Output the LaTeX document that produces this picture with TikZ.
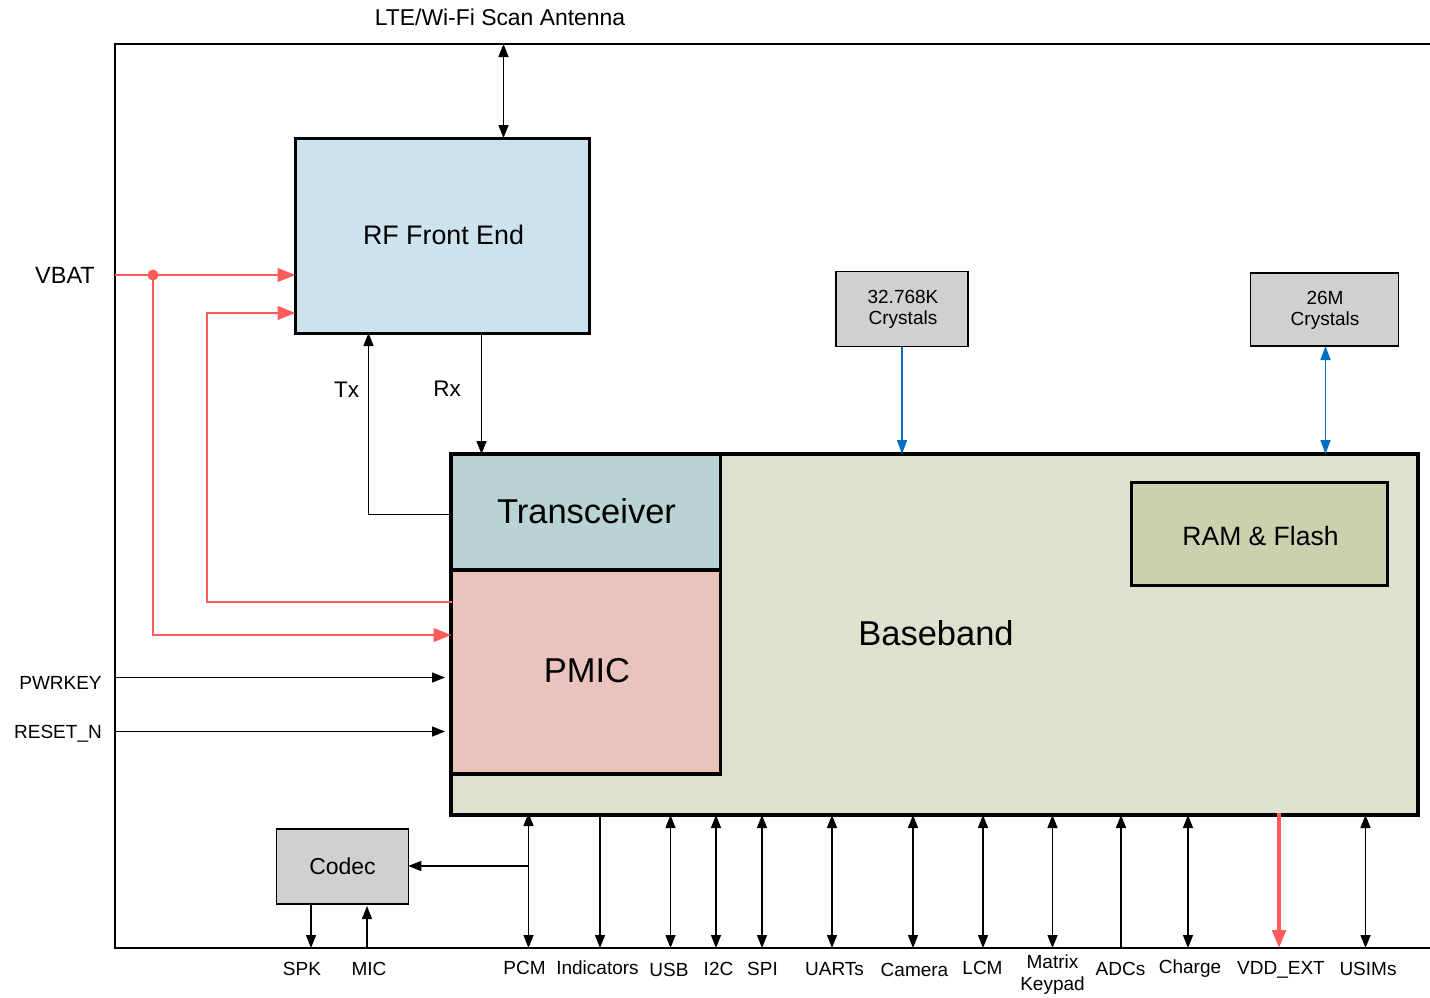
\documentclass[tikz,border=0pt]{standalone}
\usepackage{fontspec}
\setmainfont{Liberation Sans}
\usetikzlibrary{arrows.meta,calc}
\definecolor{rfblue}{HTML}{CCE2EC}
\definecolor{bbgreen}{HTML}{DDE2CE}
\definecolor{ramgreen}{HTML}{CAD1AE}
\definecolor{trteal}{HTML}{B9D3D4}
\definecolor{pmicpink}{HTML}{EAC4BC}
\definecolor{boxgrey}{HTML}{D0D0D0}
\definecolor{pwrred}{HTML}{FF5B5B}
\definecolor{clkblue}{HTML}{0070C0}
\newcommand{\fs}[1]{\fontsize{#1}{#1}\selectfont}
\tikzset{
  x=1pt,y=-1pt,
  blk/.style={draw=black,rectangle,outer sep=0pt,inner sep=0pt,align=center,text=black},
  thick box/.style={blk,line width=3.8pt},
  thin box/.style={blk,line width=1.2pt,fill=boxgrey},
  lab/.style={inner sep=0pt,outer sep=0pt,align=center,text=black,font=\fs{19}},
  sig/.style={line width=1.4pt,draw=black},
  one/.style={sig,-{Triangle[length=13pt,width=10pt]}},
  two/.style={sig,{Triangle[length=13pt,width=10pt]}-{Triangle[length=13pt,width=10pt]}},
  pwr/.style={line width=2.9pt,draw=pwrred,-{Triangle[length=18pt,width=13.5pt]}},
  clk/.style={line width=1.6pt,draw=clkblue},
}
\begin{document}
\begin{tikzpicture}
\useasboundingbox (0,0) rectangle (1430,997);
% frame
\coordinate (tr) at (1430,44);
\coordinate (tl) at (115,44);
\coordinate (bl) at (115,948);
\coordinate (br) at (1430,948);
\draw[line width=1.6pt,line join=miter] (tr) -- (tl) -- (bl) -- (br);
% blocks
\node[thick box,fill=rfblue,minimum width=294pt,minimum height=195pt,line width=3pt] (rf) at (442.5,235.5) {};
\node[lab,font=\fs{26.8}] (rfl) at (443.5,234.5) {RF Front End};
\node[thick box,fill=bbgreen,minimum width=967pt,minimum height=361pt] (bb) at (934.75,634.5) {};
\node[lab,font=\fs{34.5}] (bbl) at (936,633) {Baseband};
\node[thick box,fill=trteal,minimum width=269pt,minimum height=116pt] (tr2) at (586,512) {};
\node[lab,font=\fs{34.5}] (trl) at (586.5,511) {Transceiver};
\node[thick box,fill=pmicpink,minimum width=269pt,minimum height=204pt] (pmic) at (586,672) {};
\node[lab,font=\fs{34.5}] (pml) at (587,671) {PMIC};
\node[thick box,fill=ramgreen,minimum width=256pt,minimum height=103pt] (ram) at (1259.5,534) {};
\node[lab,font=\fs{26.5}] (raml) at (1260.5,536) {RAM \& Flash};
\node[thin box,minimum width=132pt,minimum height=75pt] (x32) at (902,309) {};
\node[lab] (x32l) at (903,309.5) {32.768K\\[2pt]Crystals};
\node[thin box,minimum width=148pt,minimum height=73pt] (x26) at (1324.5,309.5) {};
\node[lab] (x26l) at (1325,310) {26M\\[2pt]Crystals};
\node[thin box,minimum width=131.5pt,minimum height=75pt,font=\fs{23}] (codec) at (342.5,866.5) {Codec};
% labels
\node[lab,font=\fs{22.9}] (ant) at (500,17.5) {LTE/Wi-Fi Scan Antenna};
\node[lab,font=\fs{23.5}] (vbat) at (65,275) {VBAT};
\node[lab] (pwrkey) at (60.5,683) {PWRKEY};
\node[lab] (rst) at (58,734) {RESET\_N};
\node[lab,font=\fs{22.5}] (tx) at (346.5,389.5) {Tx};
\node[lab,font=\fs{22.5}] (rx) at (447,388.5) {Rx};
\node[lab] (spk) at (302,969) {SPK};
\node[lab] (mic) at (369,969) {MIC};
\node[lab] (pcm) at (524.5,968) {PCM};
\node[lab] (ind) at (597.5,968) {Indicators};
\node[lab] (usb) at (669,970) {USB};
\node[lab] (i2c) at (718.5,969) {I2C};
\node[lab] (spi) at (762.5,969) {SPI};
\node[lab] (uarts) at (834.5,969) {UARTs};
\node[lab] (cam) at (914.5,970) {Camera};
\node[lab] (lcm) at (982.5,968) {LCM};
\node[lab] (mk) at (1052.5,975) {Matrix\\[3pt]Keypad};
\node[lab] (adc) at (1120.5,968.5) {ADCs};
\node[lab] (chg) at (1190,968.5) {Charge};
\node[lab] (vdd) at (1281,969.5) {VDD\_EXT};
\node[lab] (usim) at (1368,968.5) {USIMs};
% antenna
\draw[two] (tl -| rf.center) ++(61,0) coordinate (a1) (a1) -- (a1 |- rf.north);
% power
\coordinate (vin) at (115,275);
\coordinate (vj) at (153,275);
\coordinate (lo1) at (153,635);
\coordinate (hi2) at (207,313);
\coordinate (lo2) at (207,602);
\draw[pwr] (vin) -- (vin -| rf.west);
\fill[pwrred] (vj) circle (5.5pt);
\draw[pwr,line join=miter] (vj) -- (lo1) -- (lo1 -| pmic.west);
\draw[pwr,line join=miter] (lo2 -| pmic.west) -- (lo2) -- (hi2) -- (hi2 -| rf.west);
% Tx Rx
\coordinate (txb) at (368.5,514.5);
\draw[one,line join=miter] (txb -| tr2.west) -- (txb) -- (txb |- rf.south);
\coordinate (rxt) at (481.5,333);
\draw[one] (rxt) -- (rxt |- bb.north);
% inputs
\coordinate (pk) at (115,677.5);
\coordinate (rs) at (115,731.5);
\coordinate (pke) at (445,677.5);
\coordinate (rse) at (445,731.5);
\draw[one] (pk) -- (pke);
\draw[one] (rs) -- (rse);
% clocks
\draw[clk,-{Triangle[length=14pt,width=10pt]}] (x32.south) -- (x32.south |- bb.north);
\coordinate (c26) at (1325.5,346);
\draw[clk,{Triangle[length=14pt,width=10pt]}-{Triangle[length=14pt,width=10pt]}] (c26) -- (c26 |- bb.north);
% bottom
\coordinate (bot) at (0,813);
\coordinate (pc) at (528.5,866);
\draw[two] (pc |- bot) -- (pc |- br);
\draw[one] (pc) -- (pc -| codec.east);
\coordinate (spkc) at (311,904);
\draw[one] (spkc) -- (spkc |- br);
\coordinate (micc) at (367,948);
\draw[one] (micc) -- (367,906);
\coordinate (indc) at (600,815);
\draw[one] (indc) -- (indc |- br);
\foreach \n/\xx in {usbc/670.5,i2cc/716,spic/762,uc/832,camc/913,lcmc/983,mkc/1052.5,chgc/1188,usimc/1365.5}{
  \coordinate (\n) at (\xx,815);
  \draw[two] (\n) -- (\n |- br);
}
\coordinate (adcc) at (1121,815);
\draw[one] (adcc |- br) -- (adcc);
\coordinate (vddc) at (1279,813);
\draw[pwr,line width=3.8pt] (vddc) -- (vddc |- br);
\end{tikzpicture}
\end{document}
